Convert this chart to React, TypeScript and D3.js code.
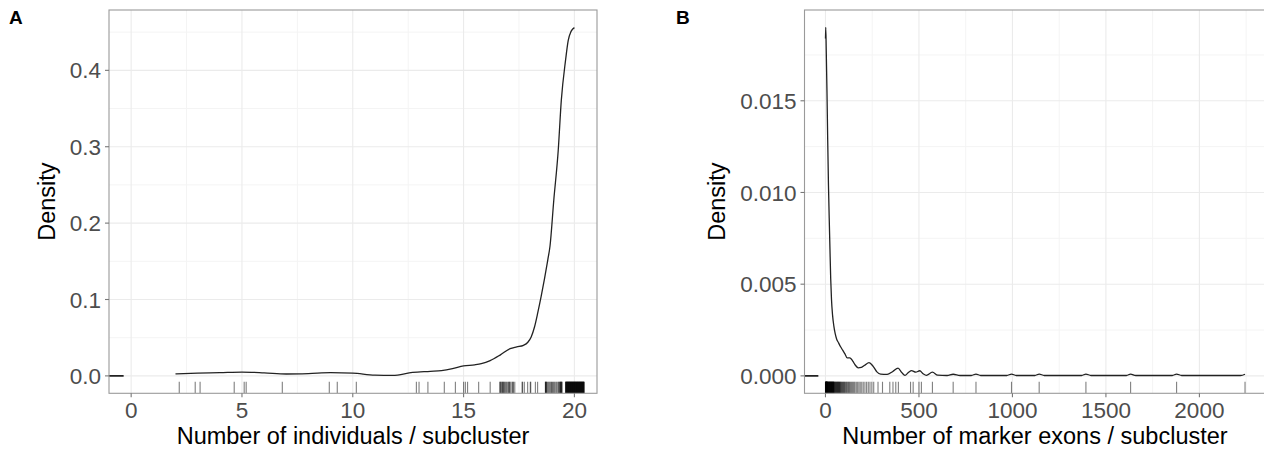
import React from "react";
import * as d3 from "d3";

// ---------- Data ----------
// Panel A: density of number of individuals per subcluster
const densityA: [number, number][] = [
  [2.0, 0.0026], [3.0, 0.0035], [4.0, 0.0042], [5.0, 0.005], [6.0, 0.004], [7.0, 0.0025],
  [8.0, 0.003], [9.0, 0.0042], [10.0, 0.0035], [11.0, 0.0009], [11.8, 0.0006], [12.7, 0.0045],
  [13.5, 0.006], [14.0, 0.007], [14.5, 0.0095], [15.0, 0.013], [15.5, 0.0145], [15.8, 0.016],
  [16.2, 0.02], [16.66, 0.0275], [17.1, 0.0357], [17.4, 0.038], [17.7, 0.040], [17.9, 0.044],
  [18.05, 0.051], [18.2, 0.064], [18.35, 0.083], [18.5, 0.104], [18.65, 0.127], [18.8, 0.152],
  [18.9, 0.170], [19.07, 0.230], [19.27, 0.295], [19.41, 0.361], [19.6, 0.413], [19.72, 0.439],
  [19.85, 0.451], [20.0, 0.456],
];
const rugA: number[] = [
  2.17, 2.89, 3.11, 4.65, 5.1, 5.19, 6.82, 8.94, 9.3, 10.16, 12.87, 12.99, 13.39, 14.13, 14.63,
  15.0, 15.08, 15.18, 15.68, 16.2,
  16.63, 16.66, 16.68, 16.72, 16.75, 16.77, 16.8, 16.83, 16.86, 16.9, 16.94, 16.99, 17.03, 17.06,
  17.08, 17.13, 17.19, 17.22, 17.25, 17.31,
  17.64, 17.66, 17.74, 17.89, 18.01, 18.03,
  18.24, 18.34,
  18.69, 18.7, 18.71, 18.73, 18.74, 18.78, 18.82, 18.86, 18.9, 18.94, 18.97, 19.01, 19.05, 19.09,
  19.13, 19.18, 19.22, 19.27, 19.3, 19.32, 19.35, 19.37, 19.38, 19.4, 19.41, 19.43, 19.44,
  19.6, 19.61, 19.62, 19.63, 19.64, 19.65, 19.66, 19.67, 19.68, 19.69, 19.7, 19.71, 19.72, 19.73,
  19.74, 19.75, 19.76, 19.77, 19.78, 19.79, 19.8, 19.81, 19.82, 19.83, 19.84, 19.85, 19.86, 19.87,
  19.88, 19.89, 19.9, 19.91, 19.92, 19.93, 19.94, 19.95, 19.96, 19.97, 19.98, 19.99, 20.0, 20.01,
  20.02, 20.03, 20.04, 20.05, 20.06, 20.07, 20.08, 20.09, 20.1, 20.11, 20.12, 20.13, 20.14, 20.15,
  20.16, 20.17, 20.18, 20.19, 20.2, 20.21, 20.22, 20.23, 20.24, 20.25, 20.26, 20.27, 20.28, 20.29,
  20.3, 20.31, 20.32, 20.33, 20.34, 20.35, 20.36, 20.37, 20.38, 20.39, 20.4, 20.41, 20.42, 20.43, 20.44,
];
const xTicksA = [0, 5, 10, 15, 20];
const xMinorA = [2.5, 7.5, 12.5, 17.5];
const yTicksA = [0, 0.1, 0.2, 0.3, 0.4];
const yMinorA = [0.05, 0.15, 0.25, 0.35, 0.45];

// Panel B: density of number of marker exons per subcluster
const densityB: [number, number][] = [
  [0, 0.0184], [1.5, 0.019], [4, 0.0178], [8, 0.0155], [12, 0.0128], [16, 0.0104], [20, 0.0086],
  [24, 0.0069], [28, 0.0053], [32, 0.0042], [38, 0.0033], [45, 0.0027], [52, 0.0023], [60, 0.002],
  [70, 0.0018], [80, 0.0016], [92, 0.0014], [104, 0.0012], [116, 0.00098], [130, 0.00098],
  [145, 0.00082], [160, 0.00058], [175, 0.00044], [192, 0.00046], [210, 0.00058], [233, 0.00072],
  [255, 0.00052], [275, 0.00022], [295, 0.0001], [330, 0.00008], [360, 0.00024], [388, 0.00042],
  [408, 0.00018], [425, 0.00003], [445, 0.0002], [460, 0.00029], [483, 0.0002], [504, 0.00028],
  [522, 0.00012], [540, 0.00003], [572, 0.0002], [600, 0.00004], [650, 0.00002], [683, 0.00009],
  [720, 0.00002], [780, 0.00002], [805, 0.0001], [830, 0.00002], [970, 0.00002], [995, 0.0001],
  [1020, 0.00002], [1120, 0.00002], [1143, 0.0001], [1170, 0.00002], [1370, 0.00002], [1393, 0.0001],
  [1420, 0.00002], [1610, 0.00002], [1632, 0.0001], [1660, 0.00002], [1855, 0.00002], [1878, 0.0001],
  [1905, 0.00002], [2220, 0.00002], [2244, 0.00009],
];
const rugB: number[] = [
  0, 0.5, 1, 1.5, 2, 2.5, 3, 3.5, 4, 4.5, 5, 5.5, 6, 6.5, 7, 7.5, 8, 8.5, 9, 9.5, 10, 11, 12, 13,
  14, 15, 16, 17, 18, 19, 20, 21, 22, 23, 24, 25, 26, 27, 28, 29, 30, 31, 32, 33, 34, 35, 36, 37,
  38, 39, 40, 41, 42, 43, 44, 45, 46, 48, 50, 52, 54, 56, 58, 60, 62, 64, 66, 68, 70, 72, 74, 76,
  78, 80, 83, 86, 89, 92, 95, 98, 101, 104, 108, 112, 116, 120, 124, 128, 133, 138, 143, 148, 153,
  158, 165, 172, 179, 186, 194, 202, 211, 220, 229, 238, 248, 258,
  281, 305, 344, 361, 376, 390, 455, 469, 500, 513, 572, 683, 805, 995, 1143, 1393, 1632, 1878, 2244,
];
const xTicksB = [0, 500, 1000, 1500, 2000];
const xMinorB = [250, 750, 1250, 1750, 2250];
const yTicksB = [0, 0.005, 0.01, 0.015];
const yMinorB = [0.0025, 0.0075, 0.0125, 0.0175];

const FONT = "'Liberation Sans', Arial, Helvetica, sans-serif";

type PanelProps = {
  id: string;
  label: string;
  labelX: number;
  left: number;
  right: number;
  top: number;
  bottom: number;
  xDomain: [number, number];
  yDomain: [number, number];
  xTicks: number[];
  xMinor: number[];
  yTicks: number[];
  yMinor: number[];
  yFmt: string;
  density: [number, number][];
  rug: number[];
  xTitle: string;
  xTitleX: number;
  yTitleX: number;
};

function Panel(p: PanelProps) {
  const x = d3.scaleLinear().domain(p.xDomain).range([p.left, p.right]);
  const y = d3.scaleLinear().domain(p.yDomain).range([p.bottom, p.top]);
  const w = p.right - p.left;
  const h = p.bottom - p.top;
  const line = d3
    .line<[number, number]>()
    .x((d) => x(d[0]))
    .y((d) => y(d[1]))
    .curve(d3.curveMonotoneX);
  const fmt = d3.format(p.yFmt);
  const rugLen = 0.03 * h;
  const grid = "#ebebeb";
  const minorGrid = "#f4f4f4";
  return (
    <g>
      <defs>
        <clipPath id={`clip-${p.id}`}>
          <rect x={p.left} y={p.top} width={w} height={h} />
        </clipPath>
      </defs>
      <rect x={p.left} y={p.top} width={w} height={h} fill="white" />
      <g clipPath={`url(#clip-${p.id})`}>
        {p.yMinor.map((v) => (
          <line key={`ym${v}`} x1={p.left} x2={p.right} y1={y(v)} y2={y(v)} stroke={minorGrid} strokeWidth={1} />
        ))}
        {p.xMinor.map((v) => (
          <line key={`xm${v}`} x1={x(v)} x2={x(v)} y1={p.top} y2={p.bottom} stroke={minorGrid} strokeWidth={1} />
        ))}
        {p.yTicks.map((v) => (
          <line key={`yg${v}`} x1={p.left} x2={p.right} y1={y(v)} y2={y(v)} stroke={grid} strokeWidth={1.1} />
        ))}
        {p.xTicks.map((v) => (
          <line key={`xg${v}`} x1={x(v)} x2={x(v)} y1={p.top} y2={p.bottom} stroke={grid} strokeWidth={1.1} />
        ))}
        {p.rug.map((v, i) => (
          <line
            key={`r${i}`}
            x1={x(v)}
            x2={x(v)}
            y1={p.bottom}
            y2={p.bottom - rugLen}
            stroke="black"
            strokeOpacity={0.5}
            strokeWidth={1.1}
          />
        ))}
        <line x1={p.left} x2={p.left + 0.03 * w} y1={y(0)} y2={y(0)} stroke="#222" strokeWidth={1.6} />
        <path d={line(p.density) || ""} fill="none" stroke="#222" strokeWidth={1.3} />
      </g>
      <rect x={p.left} y={p.top} width={w} height={h} fill="none" stroke="#9a9a9a" strokeWidth={1.1} />
      {p.yTicks.map((v) => (
        <g key={`yt${v}`}>
          <line x1={p.left - 4} x2={p.left} y1={y(v)} y2={y(v)} stroke="#777" strokeWidth={1.1} />
          <text
            x={p.left - 8}
            y={y(v)}
            dy="0.36em"
            textAnchor="end"
            fontFamily={FONT}
            fontSize={22.5}
            fill="#4d4d4d"
          >
            {fmt(v)}
          </text>
        </g>
      ))}
      {p.xTicks.map((v) => (
        <g key={`xt${v}`}>
          <line x1={x(v)} x2={x(v)} y1={p.bottom} y2={p.bottom + 4} stroke="#777" strokeWidth={1.1} />
          <text x={x(v)} y={p.bottom + 25} textAnchor="middle" fontFamily={FONT} fontSize={22.5} fill="#4d4d4d">
            {v}
          </text>
        </g>
      ))}
      <text x={p.xTitleX} y={444} textAnchor="middle" fontFamily={FONT} fontSize={23.5} fill="black">
        {p.xTitle}
      </text>
      <text
        transform={`translate(${p.yTitleX},${(p.top + p.bottom) / 2}) rotate(-90)`}
        textAnchor="middle"
        fontFamily={FONT}
        fontSize={23.5}
        fill="black"
      >
        Density
      </text>
      <text x={p.labelX} y={24} fontFamily={FONT} fontSize={19} fontWeight="bold" fill="black">
        {p.label}
      </text>
    </g>
  );
}

export default function App() {
  return (
    <svg width={1264} height={453} style={{ position: "absolute", left: 0, top: 0, background: "white" }}>
      <rect x={0} y={0} width={1264} height={453} fill="white" />
      <Panel
        id="a"
        label="A"
        labelX={9}
        left={109}
        right={597}
        top={10}
        bottom={393.3}
        xDomain={[-1, 21.02]}
        yDomain={[-0.0228, 0.479]}
        xTicks={xTicksA}
        xMinor={xMinorA}
        yTicks={yTicksA}
        yMinor={yMinorA}
        yFmt=".1f"
        density={densityA}
        rug={rugA}
        xTitle="Number of individuals / subcluster"
        xTitleX={353}
        yTitleX={55}
      />
      <Panel
        id="b"
        label="B"
        labelX={676}
        left={804.5}
        right={1266}
        top={10}
        bottom={393.3}
        xDomain={[-112.2, 2356.2]}
        yDomain={[-0.00095, 0.01995]}
        xTicks={xTicksB}
        xMinor={xMinorB}
        yTicks={yTicksB}
        yMinor={yMinorB}
        yFmt=".3f"
        density={densityB}
        rug={rugB}
        xTitle="Number of marker exons / subcluster"
        xTitleX={1035}
        yTitleX={725}
      />
    </svg>
  );
}
